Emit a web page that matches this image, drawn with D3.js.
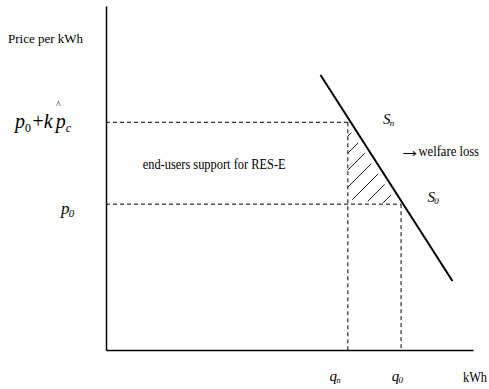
<!DOCTYPE html>
<html><head><meta charset="utf-8">
<script src="https://cdn.jsdelivr.net/npm/d3@7"></script>
<style>
html,body{margin:0;padding:0;background:#fff;}
svg text{font-family:"Liberation Serif","Times New Roman",serif;}
</style></head>
<body><div id="chart"></div>
<script>
// ---- data (abstract units) ----
const quantityKeys = ["n", "0"];          // q_n, q_0
const quantityValues = [65.9, 80.4];
const priceKeys = ["pn", "p0"];
const priceValues = [66.2, 42.4];
const supplyQ = [58.45, 94.4];
const supplyP = [79.95, 20.05];
const axisDomainQ = [0, 100];
const axisDomainP = [0, 100];

const W = 489, H = 389;
const FONT = "Liberation Serif";
const svg = d3.select("#chart").append("svg").attr("width", W).attr("height", H)
  .attr("font-family", FONT);

const x = d3.scaleLinear().domain(axisDomainQ).range([106, 473]);
const y = d3.scaleLinear().domain(axisDomainP).range([350, 6]);

const qn = quantityValues[0], q0 = quantityValues[1];
const pn = priceValues[0], p0 = priceValues[1];

const supplyAt = d3.scaleLinear().domain(supplyP).range(supplyQ); // p -> q

// hatch clip polygon (slightly inset from supply line and bottom edge)
const insetS = 6, insetB = 5;
const defs = svg.append("defs");
defs.append("clipPath").attr("id", "tri").append("path")
  .attr("d", d3.line()([
    [x(qn), y(pn)], [x(supplyAt(pn)) - insetS, y(pn)],
    [x(supplyAt(p0)) - insetS, y(p0)], [x(qn), y(p0) - insetB]
  ]) + "Z");

// hatch lines anchored at the (qn, p0) corner
const slope = 1.0, spacing = 17;
const hatchStarts = d3.range(-5, 5).map(k => x(qn) + k * spacing);
svg.append("g").attr("clip-path", "url(#tri)").selectAll("line").data(hatchStarts).join("line")
  .attr("x1", d => d).attr("y1", y(p0))
  .attr("x2", d => d + 150).attr("y2", y(p0) - 150 * slope)
  .attr("stroke", "#000").attr("stroke-width", 0.9);

// axes (lines only)
svg.append("g").attr("transform", `translate(0,${y(0)})`)
  .call(d3.axisBottom(x).tickValues([]).tickSizeOuter(0))
  .call(g => g.select(".domain").attr("stroke-width", 1.5));
svg.append("g").attr("transform", `translate(${x(0)},0)`)
  .call(d3.axisLeft(y).tickValues([]).tickSizeOuter(0))
  .call(g => g.select(".domain").attr("stroke-width", 1.5));

// dashed guide lines
const guides = [
  [[0, pn], [qn, pn]],
  [[qn, pn], [qn, 0]],
  [[0, p0], [q0, p0]],
  [[q0, p0], [q0, 0]]
];
svg.append("g").selectAll("line").data(guides).join("line")
  .attr("x1", d => x(d[0][0])).attr("y1", d => y(d[0][1]))
  .attr("x2", d => x(d[1][0])).attr("y2", d => y(d[1][1]))
  .attr("stroke", "#000").attr("stroke-width", 1).attr("stroke-dasharray", "4,3");

// supply line
svg.append("line")
  .attr("x1", x(supplyQ[0])).attr("y1", y(supplyP[0]))
  .attr("x2", x(supplyQ[1])).attr("y2", y(supplyP[1]))
  .attr("stroke", "#000").attr("stroke-width", 2);

// ---- text ----
function sym(xp, yp, main, sub, size, subItalic = true) {
  const t = svg.append("text").attr("x", xp).attr("y", yp).attr("font-family", FONT)
    .attr("font-size", size).attr("font-style", "italic")
    .attr("letter-spacing", -0.8);
  t.append("tspan").text(main);
  t.append("tspan").text(sub).attr("font-size", Math.round(size * 0.62))
    .attr("font-style", subItalic ? "italic" : "normal").attr("dy", size * 0.18);
  return t;
}
function plain(xp, yp, str, size, len) {
  const t = svg.append("text").attr("x", xp).attr("y", yp).attr("font-family", FONT)
    .attr("font-size", size).text(str);
  if (len) t.attr("textLength", len).attr("lengthAdjust", "spacingAndGlyphs");
  return t;
}

plain(8, 43, "Price per kWh", 13, 75);

// p0 + k p^c
const pk = svg.append("text").attr("x", 15).attr("y", 127.5).attr("font-family", FONT).attr("font-size", 20);
pk.append("tspan").text("p").attr("font-style", "italic");
pk.append("tspan").text("0").attr("font-size", 12).attr("dy", 4);
pk.append("tspan").text("+").attr("dy", -4).attr("dx", 1.5);
pk.append("tspan").text("k").attr("font-style", "italic");
pk.append("tspan").text("p").attr("font-style", "italic").attr("dx", 3);
pk.append("tspan").text("c").attr("font-style", "italic").attr("font-size", 12).attr("dy", 4);
plain(56, 107.5, "^", 10);

sym(61, 214, "p", "0", 17);

plain(142.7, 169, "end-users support for RES-E", 15, 143);

sym(383, 123.5, "S", "n", 15);
sym(427.5, 201.5, "S", "0", 15);

plain(399, 157, "\u2192", 22);
plain(418.5, 155.5, "welfare loss", 14, 60.5);

const qLabelX = [329.5, 391.7];
quantityKeys.forEach((k, i) => sym(qLabelX[i], 380.5, "q", k, 15));
plain(463, 381.7, "kWh", 14, 24);
</script></body></html>
